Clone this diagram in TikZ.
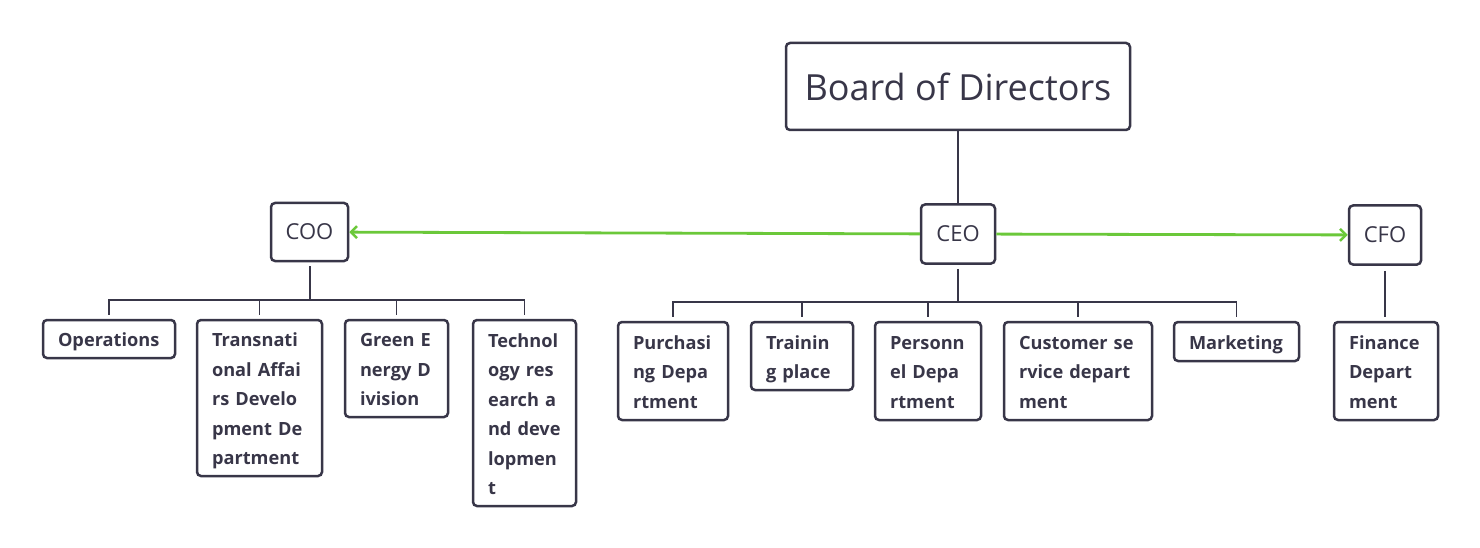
\documentclass[tikz,border=0pt]{standalone}
\usepackage{fontspec}
\setmainfont{Open Sans}
\usetikzlibrary{arrows.meta}
\definecolor{ink}{HTML}{383648}
\definecolor{grn}{HTML}{6BC83A}
\newcommand\ks{\rule[-6.9pt]{0pt}{29.5pt}}
\begin{document}
\begin{tikzpicture}[x=1pt,y=-1pt,
  top/.style={draw=ink,line width=2.5pt,rounded corners=4pt,text=ink,inner sep=0pt},
  dept/.style={draw=ink,line width=2.5pt,rounded corners=4pt,text=ink,inner xsep=15pt,inner ysep=0pt,
    align=left,font=\bfseries\fontsize{18.2}{29.5}\selectfont},
  link/.style={draw=ink,line width=1.5pt},
  stub/.style={draw=ink,line width=2pt},
  rel/.style={draw=grn,line width=2.8pt,-{Straight Barb[length=6pt,width=12pt,line width=2.5pt]}}]
\useasboundingbox (0,0) rectangle (1480,548);
\node[top,minimum width=344pt,minimum height=87pt,font=\fontsize{36}{40}\selectfont] (board) at (958,86.5) {Board of Directors};
\node[top,minimum width=74pt,minimum height=59pt,font=\fontsize{22}{24}\selectfont] (ceo) at (958,234) {CEO};
\node[top,minimum width=77pt,minimum height=58pt,font=\fontsize{22}{24}\selectfont] (coo) at (309.5,232) {COO};
\node[top,minimum width=72pt,minimum height=59pt,font=\fontsize{22}{24}\selectfont] (cfo) at (1385,235) {CFO};

\node[dept,text width=102pt,minimum height=38pt] (ops) at (109,339) {\ks Operations};
\node[dept,text width=95pt,minimum height=156pt] (trans) at (259.5,398) {\ks Transnati\\\ks onal Affai\\\ks rs Develo\\\ks pment De\\\ks partment};
\node[dept,text width=73pt,minimum height=97pt] (green) at (396.5,368.5) {\ks Green E\\\ks nergy D\\\ks ivision};
\node[dept,text width=73pt,minimum height=186pt] (tech) at (524.5,413) {\ks Technol\\\ks ogy res\\\ks earch a\\\ks nd deve\\\ks lopmen\\\ks t};

\node[dept,text width=80pt,minimum height=98pt] (purch) at (673,371) {\ks Purchasi\\\ks ng Depa\\\ks rtment};
\node[dept,text width=72pt,minimum height=68pt] (train) at (802,356) {\ks Trainin\\\ks g place};
\node[dept,text width=76pt,minimum height=98pt] (pers) at (928,371) {\ks Personn\\\ks el Depa\\\ks rtment};
\node[dept,text width=118pt,minimum height=98pt] (cust) at (1078,371) {\ks Customer se\\\ks rvice depart\\\ks ment};
\node[dept,text width=95pt,minimum height=39pt] (mkt) at (1236.5,341.5) {\ks Marketing};
\node[dept,text width=74pt,minimum height=98pt] (fin) at (1386,371) {\ks Finance\\\ks Depart\\\ks ment};

\coordinate (coobus) at (309.5,300);
\coordinate (ceobus) at (958,302);

\draw[draw=ink,line width=2.5pt] (board) -- (ceo);
\draw[rel] (ceo) -- (coo);
\draw[rel] (ceo) -- (cfo);

\draw[stub,shorten <=4pt] (coo.south) -- (coobus);
\foreach \c in {ops,trans,green,tech} \draw[link,shorten <=4pt] (\c.north) |- (coobus);
\draw[stub,shorten <=4pt] (ceo.south) -- (ceobus);
\foreach \c in {purch,train,pers,cust,mkt} \draw[link,shorten <=4pt] (\c.north) |- (ceobus);
\draw[link,shorten <=5pt,shorten >=4pt] (cfo.south) -- (cfo.south |- fin.north);
\end{tikzpicture}
\end{document}
